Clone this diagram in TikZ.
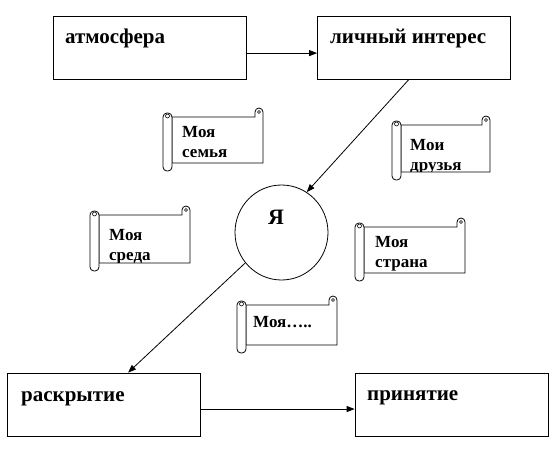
\documentclass[tikz,border=0pt]{standalone}
\usepackage{fontspec}
\setmainfont{Liberation Serif}
\usetikzlibrary{arrows.meta,shapes.geometric,calc}
\tikzset{
  ln/.style={line width=0.8pt},
  boxnode/.style={draw, ln, rectangle, minimum width=193pt, minimum height=63pt, inner sep=0pt},
  btext/.style={font=\fontsize{21}{25}\selectfont\bfseries, inner sep=0pt, anchor=base west},
  stext/.style={font=\fontsize{17}{20}\selectfont\bfseries, inner sep=0pt, anchor=base west},
  arr/.style={ln, -{Triangle[length=8pt,width=6pt]}},
}
\newcommand\myscroll[9]{%
  \path[draw, ln, fill=white] ({#2+9},#5) -- ({#2+9},#3) -- ({#4-8},#3) -- ({#4-8},{#3-5})
     arc[start angle=180, end angle=360, radius=4] -- (#4,#5) -- cycle;
  \draw[line width=0.6pt] ({#4-4},{#3-5}) circle (1.5pt);
  \draw[ln, fill=white, rounded corners=4pt] (#2,{#3-4}) rectangle ({#2+9},{#5+8});
  \draw[line width=0.6pt] ({#2+4.5},{#3-1}) circle (2pt);
  \begin{scope}
    \clip ({#2+9},#3) rectangle (#4,{#5-0.5});
    \node[stext] (#1) at (#6,#7) {#8};
    \node[stext] (#1b) at (#6,{#7+20}) {#9};
  \end{scope}
}
\begin{document}
\begin{tikzpicture}[x=1pt,y=-1pt]
\useasboundingbox (0,0) rectangle (557,450);
\fill[white] (0,0) rectangle (557,450);

% main boxes
\node[boxnode] (b1) at (149.5,48) {};
\node[boxnode] (b2) at (414,47.5) {};
\node[boxnode] (b3) at (103.5,404.5) {};
\node[boxnode] (b4) at (451.5,404.5) {};
\node[btext] (t1) at (65,43) {атмосфера};
\node[btext] (t2) at (330,43) {личный интерес};
\node[btext] (t3) at (21,401) {раскрытие};
\node[btext] (t4) at (367,400) {принятие};

% central ellipse
\node[draw, ln, ellipse, minimum width=93pt, minimum height=95pt, inner sep=0pt] (ya) at (281.5,232.5) {};
\node[font=\fontsize{22}{26}\selectfont\bfseries, inner sep=0pt] (yat) at (276,217) {Я};

% scrolls
\myscroll{s1}{163}{117}{263}{163}{182}{137}{Моя}{семья}
\myscroll{s2}{392}{125}{490}{172}{410}{150}{Мои}{друзья}
\myscroll{s3}{355}{227}{465}{273}{375}{247}{Моя}{страна}
\myscroll{s4}{90}{215}{190}{263}{109}{240}{Моя}{среда}
\myscroll{s5}{237}{305}{337}{345}{253}{327}{Моя…..}{}

% connectors
\coordinate (p1) at ($(b1.north east)!0.58!(b1.south east)$);
\draw[arr] (p1) -- (p1 -| b2.west);
\coordinate (p2) at ($(b3.north east)!0.571!(b3.south east)$);
\draw[arr] (p2) -- (p2 -| b4.west);
\draw[arr] ($(b2.south west)!0.474!(b2.south east)$) -- (ya.58);
\draw[arr] (ya.220) -- ($(b3.north west)!0.627!(b3.north east)$);
\end{tikzpicture}
\end{document}
